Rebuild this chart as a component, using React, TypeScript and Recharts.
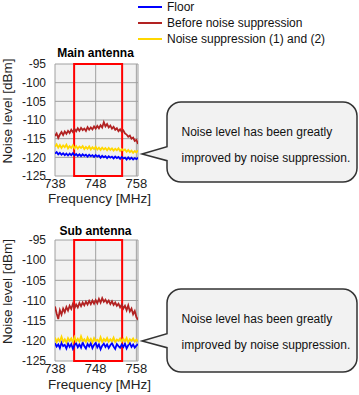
import { LineChart, Line, XAxis, YAxis, CartesianGrid, ReferenceArea } from "recharts";

const freqs = [
  738.0, 738.4, 738.8, 739.2, 739.6, 740.0, 740.4, 740.8, 741.2, 741.6, 742.0, 742.4, 742.8,
  743.2, 743.6, 744.0, 744.4, 744.8, 745.2, 745.6, 746.0, 746.4, 746.8, 747.2, 747.6, 748.0,
  748.4, 748.8, 749.2, 749.6, 750.0, 750.4, 750.8, 751.2, 751.6, 752.0, 752.4, 752.8, 753.2,
  753.6, 754.0, 754.4, 754.8, 755.2, 755.6, 756.0, 756.4, 756.8, 757.2, 757.6, 758.0, 758.4,
];

const mainFloor = [
  -119.0, -118.6, -119.2, -118.8, -119.3, -118.9, -119.4, -119.0, -119.5, -119.0, -119.4, -118.9, -119.5,
  -119.1, -119.6, -119.2, -119.7, -119.2, -119.6, -119.3, -119.8, -119.3, -119.7, -119.4, -119.9, -119.4,
  -119.8, -119.5, -120.1, -119.6, -120.0, -119.7, -120.2, -119.7, -120.1, -119.8, -120.3, -119.8, -120.2,
  -119.9, -120.4, -119.9, -120.3, -120.1, -120.6, -120.0, -120.5, -120.1, -120.6, -120.2, -120.5, -120.1,
];
const mainBefore = [
  -114.3, -113.6, -114.8, -113.9, -113.2, -114.0, -113.1, -113.7, -112.9, -113.5, -112.6, -113.2, -112.4,
  -113.0, -112.2, -112.9, -112.1, -112.7, -112.3, -112.9, -111.9, -112.6, -112.0, -112.5, -111.7, -112.3,
  -111.6, -112.2, -111.4, -112.0, -110.6, -111.7, -111.1, -112.0, -111.5, -112.3, -111.8, -112.6, -112.2,
  -113.0, -112.5, -113.2, -112.8, -113.6, -113.9, -114.5, -114.2, -115.0, -114.7, -115.6, -115.3, -116.4,
];
const mainSuppressed = [
  -117.2, -116.5, -117.4, -116.7, -117.5, -116.8, -117.3, -116.6, -117.6, -117.0, -117.5, -116.8, -117.6,
  -117.0, -117.7, -117.1, -117.5, -117.0, -117.8, -117.2, -117.7, -117.1, -117.9, -117.3, -117.8, -117.2,
  -117.9, -117.4, -118.0, -117.4, -117.9, -117.5, -118.1, -117.5, -118.0, -117.6, -118.2, -117.7, -118.1,
  -117.6, -118.3, -117.8, -118.2, -117.9, -118.5, -118.0, -118.6, -118.2, -118.8, -118.3, -118.7, -118.1,
];

const subFloor = [
  -120.6, -121.4, -120.9, -121.8, -120.5, -121.3, -121.0, -121.9, -120.7, -121.5, -120.8, -122.0, -121.1,
  -120.6, -121.6, -120.9, -121.7, -120.4, -121.3, -121.9, -120.8, -121.4, -120.6, -121.8, -121.0, -120.5,
  -121.6, -120.9, -122.1, -121.2, -120.7, -121.5, -120.9, -121.8, -121.1, -120.6, -121.4, -122.0, -120.8,
  -121.3, -121.7, -120.9, -121.5, -120.7, -121.9, -121.1, -120.6, -121.5, -120.9, -121.7, -121.2, -120.8,
];
const subBefore = [
  -111.5, -113.2, -114.6, -112.4, -113.5, -112.0, -112.9, -111.6, -112.5, -111.3, -112.1, -110.8, -111.9,
  -111.0, -111.7, -110.6, -111.4, -110.5, -111.2, -110.3, -111.0, -110.1, -110.9, -110.0, -110.8, -109.9,
  -110.7, -109.6, -110.5, -109.4, -110.3, -109.8, -110.6, -110.0, -110.9, -110.2, -111.1, -110.5, -111.3,
  -110.8, -111.7, -111.0, -112.0, -111.3, -112.4, -111.2, -112.7, -112.0, -113.4, -112.6, -114.1, -114.8,
];
const subSuppressed = [
  -119.2, -120.3, -119.5, -120.1, -119.0, -120.2, -119.6, -120.4, -119.3, -120.0, -119.4, -120.3, -119.1,
  -120.1, -119.5, -120.2, -118.9, -120.0, -119.6, -120.3, -119.2, -120.1, -119.5, -120.4, -119.3, -120.0,
  -119.7, -120.2, -119.1, -120.3, -119.5, -120.0, -119.3, -120.2, -119.6, -120.1, -119.2, -120.3, -119.7,
  -120.0, -119.4, -120.2, -119.5, -120.1, -119.3, -120.4, -119.6, -120.0, -119.4, -120.2, -119.7, -120.1,
];

const xTicks = [738, 748, 758];
const yTicks = [-125, -120, -115, -110, -105, -100, -95];
const highlightBand = [742.7, 754.5];

const series = [
  { key: "floor", name: "Floor", color: "#0000ff" },
  { key: "before", name: "Before noise suppression", color: "#b22222" },
  { key: "suppressed", name: "Noise suppression (1) and (2)", color: "#ffd700" },
];

const calloutLines = ["Noise level has been greatly", "improved by noise suppression."];

const font = "'Liberation Sans', Arial, sans-serif";

const buildRows = (floor: number[], before: number[], suppressed: number[]) =>
  freqs.map((f, i) => ({ freq: f, floor: floor[i], before: before[i], suppressed: suppressed[i] }));

const mainRows = buildRows(mainFloor, mainBefore, mainSuppressed);
const subRows = buildRows(subFloor, subBefore, subSuppressed);

const NoiseChart = ({
  rows,
  height,
  marginTop,
  labelOffset,
}: {
  rows: any[];
  height: number;
  marginTop: number;
  labelOffset: number;
}) => (
  <LineChart
    width={359}
    height={height}
    data={rows}
    margin={{ top: marginTop, right: 221, bottom: 0, left: 0 }}
  >
    <CartesianGrid stroke="#a0a0a0" fill="#f2f2f2" />
    <XAxis
      dataKey="freq"
      type="number"
      domain={[738, 758.4]}
      ticks={xTicks}
      interval={0}
      allowDataOverflow
      height={34}
      axisLine={false}
      tickLine={false}
      tickSize={0}
      tickMargin={3}
      tick={{ fill: "#222", fontSize: 13 }}
      label={{
        value: "Frequency [MHz]",
        position: "insideBottom",
        offset: labelOffset,
        dx: 3,
        fill: "#222",
        fontSize: 13.5,
      }}
    />
    <YAxis
      type="number"
      domain={[-125, -95]}
      ticks={yTicks}
      interval={0}
      width={55}
      axisLine={false}
      tickLine={false}
      tickSize={0}
      tickMargin={9}
      tick={{ fill: "#222", fontSize: 12 }}
      label={{
        value: "Noise level [dBm]",
        angle: -90,
        position: "center",
        dx: -20.5,
        dy: -9,
        fill: "#222",
        fontSize: 13.5,
      }}
    />
    {series.map((s) => (
      <Line
        key={s.key}
        dataKey={s.key}
        name={s.name}
        stroke={s.color}
        strokeWidth={1.8}
        dot={false}
        isAnimationActive={false}
      />
    ))}
    <ReferenceArea
      x1={highlightBand[0]}
      x2={highlightBand[1]}
      y1={-125}
      y2={-95}
      stroke="#ff0000"
      strokeWidth={2}
      fill="none"
      fillOpacity={0}
    />
  </LineChart>
);

const Callout = ({ top, h }: { top: number; h: number }) => {
  const x0 = 167;
  const x1 = 357;
  const y0 = top;
  const y1 = top + h;
  const r = 14;
  const pTop = top + 44.7;
  const pBot = top + 58.7;
  const tipY = top + 52;
  const d = `M ${x0 + r} ${y0} H ${x1 - r} A ${r} ${r} 0 0 1 ${x1} ${y0 + r} V ${y1 - r} A ${r} ${r} 0 0 1 ${x1 - r} ${y1} H ${x0 + r} A ${r} ${r} 0 0 1 ${x0} ${y1 - r} V ${pBot} L 142 ${tipY} L ${x0} ${pTop} V ${y0 + r} A ${r} ${r} 0 0 1 ${x0 + r} ${y0} Z`;
  return (
    <g>
      <path d={d} fill="#f2f2f2" stroke="#333" strokeWidth={1.5} />
      {calloutLines.map((t, i) => (
        <text key={i} x={181.5} y={top + 34 + i * 25.5} fontSize={12} fill="#111" fontFamily={font}>
          {t}
        </text>
      ))}
    </g>
  );
};

export default function App() {
  return (
    <div
      style={{
        position: "absolute",
        left: 0,
        top: 0,
        width: 359,
        height: 395,
        background: "#fff",
        fontFamily: font,
      }}
    >
      {/* legend */}
      {series.map((s, i) => (
        <div
          key={s.key}
          style={{ position: "absolute", left: 138, top: 7.3 + i * 15.7 - 8, height: 16, display: "flex", alignItems: "center" }}
        >
          <div style={{ width: 24, height: 2, background: s.color }} />
          <span style={{ marginLeft: 5, fontSize: 12, color: "#111", whiteSpace: "nowrap" }}>{s.name}</span>
        </div>
      ))}

      <div style={{ position: "absolute", left: 0, top: 0 }}>
        <NoiseChart rows={mainRows} height={210} marginTop={64} labelOffset={7} />
      </div>
      <div style={{ position: "absolute", left: 0, top: 210 }}>
        <NoiseChart rows={subRows} height={185} marginTop={30} labelOffset={6} />
      </div>

      <div style={{ position: "absolute", left: 40, width: 111, top: 46, textAlign: "center", fontSize: 12, fontWeight: "bold", lineHeight: "14px" }}>
        Main antenna
      </div>
      <div style={{ position: "absolute", left: 40, width: 111, top: 224, textAlign: "center", fontSize: 12, fontWeight: "bold", lineHeight: "14px" }}>
        Sub antenna
      </div>

      <svg width={359} height={395} style={{ position: "absolute", left: 0, top: 0, pointerEvents: "none" }}>
        <Callout top={102} h={80} />
        <Callout top={289} h={83} />
      </svg>
    </div>
  );
}
